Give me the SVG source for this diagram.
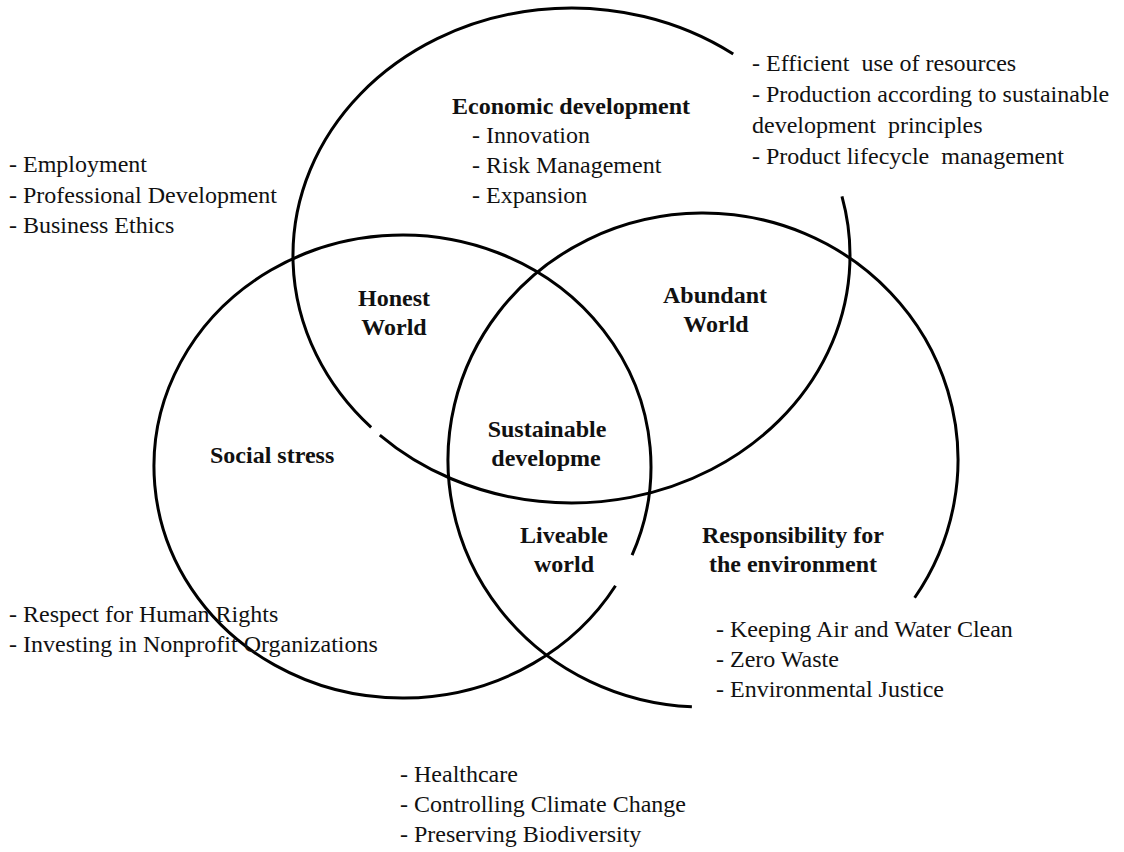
<svg xmlns="http://www.w3.org/2000/svg" width="1124" height="852" viewBox="0 0 1124 852">
  <style>
    .ring { fill: none; stroke: #000; stroke-width: 3; }
    .t { font-family: "Liberation Serif", "Times New Roman", serif; font-size: 24px; fill: #111; white-space: pre; }
    .h { font-weight: bold; }
    .c { text-anchor: middle; }
  </style>
  <rect width="1124" height="852" fill="#fff"/>

  <!-- three overlapping sets, each outline drawn as open elliptical arcs -->
  <g id="set-economic">
    <path class="ring" d="M 841.96 196.46 A 278.5 247.5 0 0 1 379.79 435.03 M 371.16 427.43 A 278.5 247.5 0 0 1 733.22 54.0"/>
  </g>
  <g id="set-social">
    <path class="ring" d="M 615.51 585.73 A 248.5 231.5 0 1 1 632.08 555.09"/>
  </g>
  <g id="set-environment">
    <path class="ring" d="M 691.88 706.77 A 255 247 0 1 1 914.64 597.76"/>
  </g>

  <!-- set titles and their items -->
  <g id="label-economic">
    <text class="t h" x="452" y="114">Economic development</text>
    <text class="t" x="472" y="143">- Innovation</text>
    <text class="t" x="472" y="173">- Risk Management</text>
    <text class="t" x="472" y="203">- Expansion</text>
  </g>
  <g id="label-social">
    <text class="t h" x="210" y="463">Social stress</text>
  </g>
  <g id="label-environment">
    <text class="t h c" x="793" y="543">Responsibility for</text>
    <text class="t h c" x="793" y="572">the environment</text>
  </g>

  <!-- overlap regions -->
  <g id="label-honest">
    <text class="t h c" x="394" y="306">Honest</text>
    <text class="t h c" x="394" y="335">World</text>
  </g>
  <g id="label-abundant">
    <text class="t h c" x="715" y="303">Abundant</text>
    <text class="t h c" x="716" y="332">World</text>
  </g>
  <g id="label-liveable">
    <text class="t h c" x="564" y="543">Liveable</text>
    <text class="t h c" x="564" y="572">world</text>
  </g>
  <g id="label-sustainable">
    <text class="t h c" x="547" y="437">Sustainable</text>
    <text class="t h c" x="546" y="466">developme</text>
  </g>

  <!-- outer item lists -->
  <g id="list-economic-environment">
    <text class="t" x="752" y="71">- Efficient  use of resources</text>
    <text class="t" x="752" y="102">- Production according to sustainable</text>
    <text class="t" x="752" y="133">development  principles</text>
    <text class="t" x="752" y="164">- Product lifecycle  management</text>
  </g>
  <g id="list-economic-social">
    <text class="t" x="9" y="172">- Employment</text>
    <text class="t" x="9" y="203">- Professional Development</text>
    <text class="t" x="9" y="233">- Business Ethics</text>
  </g>
  <g id="list-social">
    <text class="t" x="9" y="622">- Respect for Human Rights</text>
    <text class="t" x="9" y="652">- Investing in Nonprofit Organizations</text>
  </g>
  <g id="list-environment">
    <text class="t" x="716" y="637">- Keeping Air and Water Clean</text>
    <text class="t" x="716" y="667">- Zero Waste</text>
    <text class="t" x="716" y="697">- Environmental Justice</text>
  </g>
  <g id="list-social-environment">
    <text class="t" x="400" y="782">- Healthcare</text>
    <text class="t" x="400" y="812">- Controlling Climate Change</text>
    <text class="t" x="400" y="842">- Preserving Biodiversity</text>
  </g>
</svg>
